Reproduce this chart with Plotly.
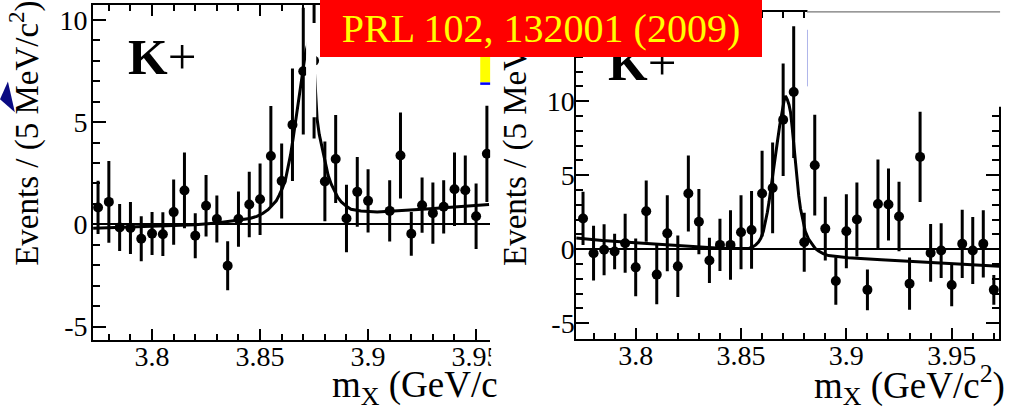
import plotly.graph_objects as go

W, H = 1018, 414
FONT = "Liberation Serif"

# ---------------- data ----------------
left_mass = [3.775, 3.780, 3.785, 3.790, 3.795, 3.800, 3.805, 3.810, 3.815, 3.820,
             3.825, 3.830, 3.835, 3.840, 3.845, 3.850, 3.855, 3.860, 3.865, 3.870,
             3.875, 3.880, 3.885, 3.890, 3.895, 3.900, 3.905, 3.910, 3.915, 3.920,
             3.925, 3.930, 3.935, 3.940, 3.945, 3.950, 3.955]
left_events = [0.83, 1.10, -0.15, -0.18, -0.70, -0.45, -0.48, 0.60, 1.66, -0.55,
               0.91, 0.26, -2.02, 0.26, 0.97, 1.23, 3.34, 2.12, 4.87, 7.49,
               8.00, 2.10, 3.20, 0.29, 1.59, 1.15, None, 0.66, 3.37, -0.46,
               0.94, 0.55, 0.86, 1.72, 1.67, 0.40, 3.45]
left_err = [1.30, 2.00, 1.15, 1.27, 1.10, 1.05, 1.07, 1.60, 1.85, 1.10,
            1.50, 1.15, 1.20, 1.35, 1.60, 1.75, 2.45, 1.83, 2.75, 3.10,
            3.80, 1.95, 2.15, 1.65, 1.70, 1.55, None, 1.50, 2.10, 1.07,
            1.35, 1.50, 1.30, 1.80, 1.70, 1.60, 2.35]
left_fit_mass = [3.7727, 3.7800, 3.7900, 3.8000, 3.8100, 3.8200, 3.8300, 3.8361, 3.8410,
                 3.8452, 3.8485, 3.8512, 3.8537, 3.8558, 3.8575, 3.8588, 3.8604, 3.8618,
                 3.8630, 3.8641, 3.8653, 3.8664, 3.8675, 3.8686, 3.8698, 3.8709, 3.8725,
                 3.8740, 3.8752, 3.8764, 3.8774, 3.8785, 3.8800, 3.8815, 3.8830, 3.8845,
                 3.8860, 3.8876, 3.8900, 3.8921, 3.8945, 3.8967, 3.9042, 3.9120, 3.9194,
                 3.9270, 3.9345, 3.9450, 3.9560]
left_fit_events = [-0.19, -0.16, -0.13, -0.10, -0.06, -0.02, 0.07, 0.16, 0.22,
                   0.29, 0.39, 0.53, 0.72, 0.94, 1.15, 1.42, 1.78, 2.20,
                   2.75, 3.40, 4.20, 5.00, 5.90, 6.80, 7.60, 8.30, 9.00,
                   8.90, 7.40, 5.15, 4.40, 3.85, 3.05, 2.40, 1.95, 1.60,
                   1.32, 1.10, 0.88, 0.74, 0.68, 0.65, 0.61, 0.64, 0.70,
                   0.75, 0.81, 0.89, 0.97]

right_mass = [3.775, 3.780, 3.785, 3.790, 3.795, 3.800, 3.805, 3.810, 3.815, 3.820,
              3.825, 3.830, 3.835, 3.840, 3.845, 3.850, 3.855, 3.860, 3.865, 3.870,
              3.875, 3.880, 3.885, 3.890, 3.895, 3.900, 3.905, 3.910, 3.915, 3.920,
              3.925, 3.930, 3.935, 3.940, 3.945, 3.950, 3.955, 3.960, 3.965, 3.970]
right_events = [2.08, -0.27, -0.04, -0.16, 0.40, -1.23, 2.57, -1.72, 1.07, -1.16,
                3.76, 1.86, -0.76, 0.29, 0.29, 1.14, 1.30, 3.76, 4.14, 8.75,
                10.62, 0.47, 5.68, 1.39, -2.15, 1.21, 2.01, -2.75, 3.06, 3.02,
                2.21, -2.33, 6.24, -0.25, -0.09, -2.42, 0.36, -0.09, 0.36, -2.75]
right_err = [1.80, 1.85, 1.72, 1.20, 2.00, 1.95, 2.07, 2.00, 2.57, 2.08,
             2.57, 2.20, 1.53, 1.77, 2.35, 2.50, 2.63, 2.90, 3.07, 3.80,
             4.45, 2.00, 3.40, 2.15, 1.60, 2.50, 2.50, 1.38, 3.00, 2.44,
             2.35, 1.77, 3.05, 1.95, 1.85, 1.43, 2.30, 2.27, 2.27, 1.00]
right_fit_mass = [3.7717, 3.7842, 3.7999, 3.8155, 3.8312, 3.8400, 3.8469, 3.8510, 3.8539,
                  3.8555, 3.8570, 3.8583, 3.8594, 3.8606, 3.8617, 3.8625, 3.8633, 3.8641,
                  3.8649, 3.8660, 3.8672, 3.8684, 3.8696, 3.8704, 3.8711, 3.8720, 3.8728,
                  3.8735, 3.8743, 3.8751, 3.8758, 3.8766, 3.8774, 3.8782, 3.8793, 3.8805,
                  3.8820, 3.8837, 3.8852, 3.8868, 3.8890, 3.8915, 3.8960, 3.9009, 3.9166,
                  3.9323, 3.9480, 3.9636, 3.9725]
right_fit_events = [0.76, 0.58, 0.43, 0.29, 0.13, 0.07, 0.04, 0.04, 0.07,
                    0.15, 0.29, 0.48, 0.74, 1.20, 1.86, 2.50, 3.20, 3.95,
                    4.77, 5.95, 7.20, 8.40, 9.46, 10.00, 10.36, 10.10, 9.75,
                    9.26, 8.20, 7.02, 5.80, 4.56, 3.60, 2.77, 1.90, 1.21,
                    0.70, 0.31, 0.05, -0.13, -0.30, -0.43, -0.52, -0.58, -0.72,
                    -0.83, -0.96, -1.10, -1.16]

x_tick_vals = [3.8, 3.85, 3.9, 3.95]
x_tick_text = ["3.8", "3.85", "3.9", "3.95"]
y_tick_vals = [-5, 0, 5, 10]
y_tick_text = ["-5", "0", "5", "10"]

y_title = "Events / (5 MeV/c<sup>2</sup>)"
x_title = "m<sub>X</sub> (GeV/c<sup>2</sup>)"
x_title_cut = "m<sub>X</sub> (GeV/c"
panel_label = "<b>K</b>+"
ref_label = "PRL 102, 132001 (2009)"


def PX(x):
    return x / W


def PY(y):
    return 1 - y / H


fig = go.Figure()

for (fx, fy, xa, ya) in [
    (left_fit_mass, left_fit_events, "x", "y"),
    (right_fit_mass, right_fit_events, "x2", "y2"),
]:
    fig.add_trace(go.Scatter(x=fx, y=fy, mode="lines", xaxis=xa, yaxis=ya,
                             line=dict(color="black", width=3, shape="linear"),
                             hoverinfo="skip", showlegend=False))

fig.add_trace(go.Scatter(x=left_mass, y=left_events, mode="markers", xaxis="x", yaxis="y",
                         marker=dict(color="black", size=10),
                         error_y=dict(type="data", array=left_err, visible=True,
                                      color="black", thickness=3, width=0),
                         showlegend=False))
fig.add_trace(go.Scatter(x=right_mass, y=right_events, mode="markers", xaxis="x2", yaxis="y2",
                         marker=dict(color="black", size=10),
                         error_y=dict(type="data", array=right_err, visible=True,
                                      color="black", thickness=3, width=0),
                         showlegend=False))

tickfont = dict(family=FONT, size=28, color="black")


def xaxis(domain, rng, anchor):
    return dict(domain=domain, range=rng, anchor=anchor, showline=True, linecolor="black",
                linewidth=2, mirror="ticks", ticks="inside", ticklen=11, tickwidth=2,
                tickcolor="black", tickmode="array", tickvals=x_tick_vals, ticktext=x_tick_text,
                minor=dict(ticks="inside", ticklen=6, tickwidth=2, tickcolor="black",
                           tickmode="linear", tick0=3.8, dtick=0.01, showgrid=False),
                showgrid=False, zeroline=False, tickfont=tickfont, ticklabelstandoff=-9)


def yaxis(domain, rng, anchor, mirror, zw, standoff):
    return dict(domain=domain, range=rng, anchor=anchor, showline=True, linecolor="black",
                linewidth=2, mirror=mirror, ticks="inside", ticklen=13, tickwidth=2,
                tickcolor="black", tickmode="array", tickvals=y_tick_vals, ticktext=y_tick_text,
                minor=dict(ticks="inside", ticklen=7, tickwidth=2, tickcolor="black",
                           tickmode="linear", tick0=0, dtick=1, showgrid=False),
                showgrid=False, zeroline=True, zerolinecolor="black", zerolinewidth=zw,
                tickfont=tickfont, ticklabelstandoff=standoff)


fig.update_layout(
    width=W, height=H, margin=dict(l=0, r=0, t=0, b=0),
    paper_bgcolor="white", plot_bgcolor="white", showlegend=False,
    xaxis=xaxis([PX(94), PX(495)], [3.7727, 3.9565], "y"),
    yaxis=yaxis([PY(342), PY(5)], [-5.63, 10.73], "x", False, 2, -2),
    xaxis2=xaxis([PX(582), PX(1009)], [3.7718, 3.9725], "y2"),
    yaxis2=yaxis([PY(341), PY(12)], [-6.04, 16.04], "x2", "ticks", 1.6, -6),
)


def rect_px(x0, y0, x1, y1, color):
    return dict(type="rect", xref="paper", yref="paper", x0=PX(x0), x1=PX(x1),
                y0=PY(y1), y1=PY(y0), fillcolor=color, line=dict(width=0), layer="above")


shapes = [
    # white patch hiding the left peak region
    dict(type="rect", xref="x", yref="y", x0=3.8713, x1=3.8760, y0=5.24, y1=9.85,
         fillcolor="white", line=dict(width=0), layer="above"),
    # white overlay on the right panel's upper right corner
    rect_px(815.5, 0, 1018, 107.5, "white"),
    # clip of the cut left tick label
    rect_px(496, 344, 548, 388, "white"),
    # fragments of the slide
    rect_px(485, 57, 495, 83, "#FFFF00"),
    rect_px(485, 83, 495, 85.5, "#0000FF"),
    dict(type="line", xref="paper", yref="paper", x0=PX(815), x1=PX(1010), y0=PY(12), y1=PY(12),
         line=dict(color="#777777", width=1.2), layer="above"),
    dict(type="line", xref="paper", yref="paper", x0=PX(815.5), x1=PX(815.5), y0=PY(30), y1=PY(87),
         line=dict(color="#b0b6ea", width=1), layer="above"),
    dict(type="path", xref="paper", yref="paper",
         path=f"M {PX(0)},{PY(100)} L {PX(8)},{PY(82)} L {PX(15)},{PY(113)} Z",
         fillcolor="#0a0a82", line=dict(width=0), layer="above"),
]
fig.update_layout(shapes=shapes)

ann = []
ann.append(dict(text=y_title, x=PX(24), y=PY(134), xref="paper", yref="paper", textangle=-90,
                xanchor="center", yanchor="middle", showarrow=False,
                font=dict(family=FONT, size=33, color="black")))
ann.append(dict(text=y_title, x=PX(517), y=PY(134), xref="paper", yref="paper", textangle=-90,
                xanchor="center", yanchor="middle", showarrow=False,
                font=dict(family=FONT, size=33, color="black")))
ann.append(dict(text=x_title_cut, x=PX(333), y=PY(390), xref="paper", yref="paper",
                xanchor="left", yanchor="middle", showarrow=False,
                font=dict(family=FONT, size=37, color="black")))
ann.append(dict(text=x_title, x=PX(1017), y=PY(388), xref="paper", yref="paper",
                xanchor="right", yanchor="middle", showarrow=False,
                font=dict(family=FONT, size=37, color="black")))
ann.append(dict(text=panel_label, x=PX(127), y=PY(57), xref="paper", yref="paper",
                xanchor="left", yanchor="middle", showarrow=False,
                font=dict(family=FONT, size=51, color="black")))
ann.append(dict(text=panel_label, x=PX(612), y=PY(63), xref="paper", yref="paper",
                xanchor="left", yanchor="middle", showarrow=False,
                font=dict(family=FONT, size=51, color="black")))
ann.append(dict(text=ref_label, x=PX(323), y=1, xref="paper", yref="paper",
                xanchor="left", yanchor="top", showarrow=False, bgcolor="#FF0000",
                width=442, height=57, borderpad=0, borderwidth=0, align="center", valign="middle",
                font=dict(family=FONT, size=40, color="#FFFF00")))
fig.update_layout(annotations=ann)

fig.write_html("out.html", config={"displayModeBar": False},
               post_script="document.body.style.margin='0';")
